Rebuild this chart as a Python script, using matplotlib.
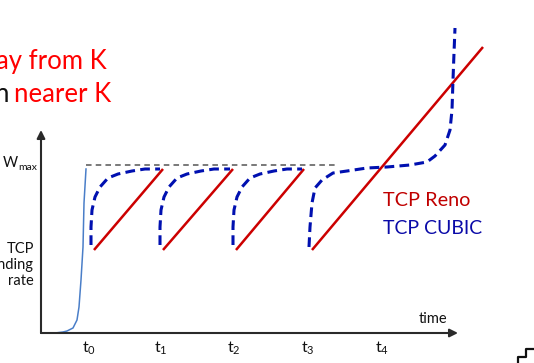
import matplotlib.pyplot as plt

plt.rcParams['font.family'] = ['Lato', 'DejaVu Sans']
plt.rcParams['mathtext.fontset'] = 'custom'
plt.rcParams['mathtext.rm'] = 'Lato'
plt.rcParams['mathtext.it'] = 'Lato'
plt.rcParams['lines.scale_dashes'] = False

# coordinates (x to the right, y downward)
origin = (41, 333)
y_tip = 130
x_tip = 458
w_max = 165
w_max_end = 337

slow_x = [41, 55, 63, 67, 73, 77, 79, 81, 83, 84, 86]
slow_y = [333, 333, 332, 331, 328, 320, 307, 280, 247, 203, 169]

reno_x = [[94, 163], [163, 233], [236, 304], [312, 483]]
reno_y = [[250, 169], [250, 169], [250, 169], [250, 47]]

cubic_x = [
    [91, 91, 92, 95, 100, 108, 118, 132, 145, 160],
    [160, 160, 161, 164, 169, 177, 187, 201, 214, 230],
    [233, 233, 234, 237, 242, 250, 260, 274, 287, 302],
    [309, 310, 312, 315, 322, 333, 347, 367, 387, 410, 427, 435, 445,
     450, 452, 453, 454, 455],
]
cubic_y = [
    [245, 227, 210, 197, 187, 178, 174, 171, 169, 169],
    [245, 227, 210, 197, 187, 178, 174, 171, 169, 169],
    [245, 227, 210, 197, 187, 178, 174, 171, 169, 169],
    [247, 227, 203, 188, 180, 173, 171, 168, 167, 165, 162, 156, 145,
     130, 110, 80, 53, 28],
]

tick_x = [89, 161, 234, 308, 382]
tick_labels = [r'$\mathrm{t}_{%d}$' % i for i in range(5)]

step_x = [518, 518, 526, 526, 534]
step_y = [363, 357, 357, 349, 349]

red = '#CC0000'
blue = '#0010B0'

fig = plt.figure(figsize=(5.34, 3.63), dpi=100)
ax = fig.add_axes([0, 0, 1, 1])
ax.set_xlim(0, 534)
ax.set_ylim(363, 0)
ax.axis('off')

# axes with arrows
for tip in [(origin[0], y_tip), (x_tip, origin[1])]:
    ax.annotate('', xy=tip, xytext=origin,
                arrowprops=dict(arrowstyle='-|>', color='#2a2a2a', lw=1.5,
                                mutation_scale=12, shrinkA=0, shrinkB=0))

ax.plot([86, w_max_end], [w_max, w_max], color='#555555', lw=1.1,
        dashes=[4, 3])

ax.plot(slow_x, slow_y, color='#4A7EC8', lw=1.1)

for xs, ys in zip(reno_x, reno_y):
    ax.plot(xs, ys, color=red, lw=1.8, solid_capstyle='butt')

for xs, ys in zip(cubic_x, cubic_y):
    ax.plot(xs, ys, color=blue, lw=2.2, dashes=[7, 3.8])

for x, lab in zip(tick_x, tick_labels):
    ax.text(x, 348, lab, ha='center', va='center', fontsize=11.5, color='#111111')

ax.text(433, 319, 'time', ha='center', va='center', fontsize=10.5, color='#111111')
ax.text(18, 167, 'W', ha='right', va='baseline', fontsize=10.5, color='#111111')
ax.text(18.5, 169.5, 'max', ha='left', va='baseline', fontsize=7.5, color='#111111')
ax.text(34, 265, 'TCP\nsending\nrate', ha='right', va='center', fontsize=10.5,
        color='#111111', linespacing=1.2, multialignment='right')

ax.text(383, 200, 'TCP Reno', ha='left', va='center', fontsize=14.3, color='#C00000')
ax.text(383, 228, 'TCP CUBIC', ha='left', va='center', fontsize=14.0, color='#0A0AA8')

ax.text(107, 62, 'away from K', ha='right', va='center', fontsize=18.5, color='#FF0000')
ax.text(111, 95, 'nearer K', ha='right', va='center', fontsize=18.5, color='#FF0000')
ax.text(9, 95, 'n', ha='right', va='center', fontsize=18.5, color='#111111')

ax.plot(step_x, step_y, color='#111111', lw=1.6)

fig.savefig('out.png', dpi=100)
